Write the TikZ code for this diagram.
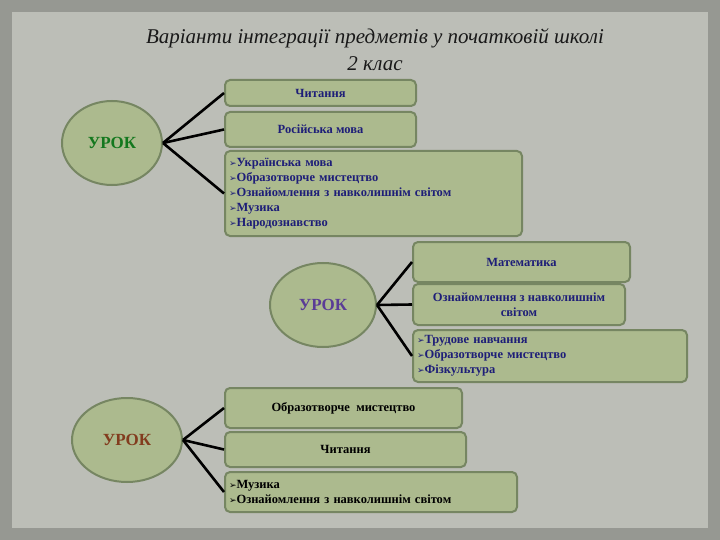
\documentclass[tikz,border=0pt]{standalone}
\usepackage{fontspec}
\usetikzlibrary{shapes.geometric}
\setmainfont{Liberation Serif}
\newfontfamily\dvs{DejaVu Sans}
\newcommand{\bul}{{\dvs\fontsize{9}{10}\selectfont ➢}}
\begin{document}
\begin{tikzpicture}[x=1pt,y=-1pt,
  box/.style={draw=boxb,line width=2pt,fill=boxf,rounded corners=5pt,font=\bfseries\fontsize{12.5}{15}\selectfont,text=txtb,inner sep=3pt},
  uk/.style={draw=boxb,line width=2pt,fill=boxf,ellipse,font=\bfseries\fontsize{17}{19}\selectfont},
  con/.style={line width=2.6pt,black}]
\definecolor{bgout}{RGB}{150,152,146}
\definecolor{bgin}{RGB}{188,190,183}
\definecolor{boxf}{RGB}{172,186,142}
\definecolor{boxb}{RGB}{118,134,98}
\definecolor{txtb}{RGB}{30,30,120}
\useasboundingbox (0,0) rectangle (720,540);
\fill[bgout] (0,0) rectangle (720,540);
\fill[bgin] (12,12) rectangle (708,528);
\node[font=\itshape\fontsize{21}{27}\selectfont,align=center,text={rgb,255:red,25;green,25;blue,25}] (t) at (375,50) {Варіанти інтеграції предметів у початковій школі\\2 клас};
% group 1
\node[uk,minimum width=100pt,minimum height=84pt,text={rgb,255:red,20;green,120;blue,30}] (u1) at (112,143) {УРОК};
\node[box,minimum width=191pt,minimum height=26pt] (a1) at (320.5,93) {Читання};
\node[box,minimum width=191pt,minimum height=35pt] (a2) at (320.5,129.5) {Російська мова};
\node[box,minimum width=297pt,minimum height=85pt,align=left,text width=289pt] (a3) at (373.5,193.5) {\bul Українська мова\\\bul Образотворче мистецтво\\\bul Ознайомлення з навколишнім світом\\\bul Музика\\\bul Народознавство};
\draw[con] (u1.east) -- (a1.west);
\draw[con] (u1.east) -- (a2.west);
\draw[con] (u1.east) -- (a3.west);
% group 2
\node[uk,minimum width=106pt,minimum height=84pt,text={rgb,255:red,90;green,60;blue,150}] (u2) at (323,305) {УРОК};
\node[box,minimum width=217pt,minimum height=40pt] (b1) at (521.5,262) {Математика};
\node[box,minimum width=212pt,minimum height=41pt,align=center] (b2) at (519,304.5) {Ознайомлення з навколишнім\\світом};
\node[box,minimum width=274pt,minimum height=52pt,align=left,text width=266pt] (b3) at (550,356) {\bul Трудове навчання\\\bul Образотворче мистецтво\\\bul Фізкультура};
\draw[con] (u2.east) -- (b1.west);
\draw[con] (u2.east) -- (b2.west);
\draw[con] (u2.east) -- (b3.west);
% group 3
\node[uk,minimum width=110pt,minimum height=84pt,text={rgb,255:red,130;green,60;blue,30}] (u3) at (127,440) {УРОК};
\node[box,minimum width=237pt,minimum height=40pt,text=black] (c1) at (343.5,408) {Образотворче\ \ мистецтво};
\node[box,minimum width=241pt,minimum height=35pt,text=black] (c2) at (345.5,449.5) {Читання};
\node[box,minimum width=292pt,minimum height=40pt,align=left,text width=284pt,text=black] (c3) at (371,492) {\bul Музика\\\bul Ознайомлення з навколишнім світом};
\draw[con] (u3.east) -- (c1.west);
\draw[con] (u3.east) -- (c2.west);
\draw[con] (u3.east) -- (c3.west);
\end{tikzpicture}
\end{document}
